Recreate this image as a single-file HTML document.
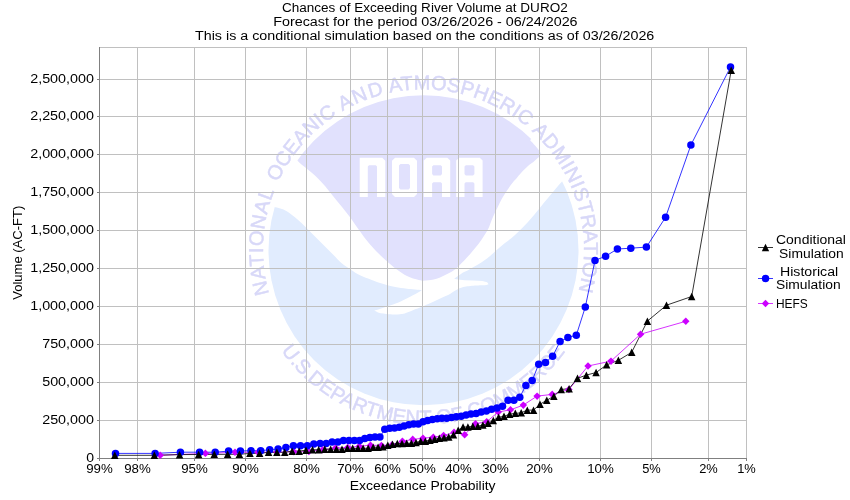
<!DOCTYPE html>
<html><head><meta charset="utf-8"><title>Chances of Exceeding River Volume</title>
<style>
html,body{margin:0;padding:0;background:#fff;overflow:hidden;}
svg{display:block;}
text{font-family:"Liberation Sans",sans-serif;fill:#000;}
svg{will-change:transform;}
</style></head><body>
<svg width="850" height="500" viewBox="0 0 850 500">
<rect width="850" height="500" fill="#fff"/>

<text x="282" y="11.9" font-size="12.5" textLength="285.7" lengthAdjust="spacingAndGlyphs">Chances of Exceeding River Volume at DURO2</text>
<text x="273.2" y="26" font-size="12.5" textLength="304.4" lengthAdjust="spacingAndGlyphs">Forecast for the period 03/26/2026 - 06/24/2026</text>
<text x="195" y="40" font-size="12.5" textLength="459.3" lengthAdjust="spacingAndGlyphs">This is a conditional simulation based on the conditions as of 03/26/2026</text>
<defs><clipPath id="disk"><circle cx="423.5" cy="250.3" r="155.0"/></clipPath>
<path id="topArc" d="M 269.1 293.7 A 160.5 160.5 0 1 1 577.9 293.7" fill="none"/>
<path id="botArc" d="M 281.1 350.8 A 174.5 174.5 0 0 0 565.9 350.8" fill="none"/>
</defs>
<circle cx="423.5" cy="250.3" r="155.0" fill="#e1ecfe"/>
<path fill="#fff" d="M 262 205 C 263.3 205.2 267.8 205.6 270 206 C 272.2 206.4 273.4 206.8 275.4 207.3 C 277.4 207.8 279.9 208.2 282 209 C 284.1 209.8 285.5 210.3 288 212 C 290.5 213.7 294 216.4 297 219 C 300 221.6 303 224.5 306 227.4 C 309 230.3 312 233.5 315 236.5 C 318 239.5 321 242.4 324 245.4 C 327 248.4 330 251.5 333 254.5 C 336 257.5 339 260.9 342 263.4 C 345 265.9 348 267.7 351 269.7 C 354 271.7 356.5 273.6 360 275.3 C 363.5 277 367.9 278.5 371.8 280 C 375.7 281.5 379.6 282.9 383.5 284.1 C 387.4 285.3 391.4 286.3 395.3 287.1 C 399.2 287.9 402.6 288.3 407 288.8 C 411.4 289.3 419.3 290 421.8 290.2 C 420.3 291.1 416.3 293.5 412.9 295.3 C 409.5 297.1 404.9 299.5 401.2 301.2 C 397.5 302.9 393.8 304.1 390.6 305.3 C 387.4 306.5 384.8 307.3 382 308.2 C 379.2 309.1 375.4 310.2 374.1 310.6 C 374.8 310.9 376.4 311.9 378 312.4 C 379.6 312.9 381.7 313.3 383.5 313.6 C 385.3 313.9 387 314.2 389 314.3 C 391 314.4 393.5 314.5 395.3 314.5 C 397.1 314.5 398.4 314.4 400 314.2 C 401.6 314 402.6 314.1 404.7 313.5 C 406.8 312.9 409.9 311.5 412.9 310.3 C 415.8 309.1 419.4 307.7 422.4 306.5 C 425.3 305.3 427.3 304.5 430.6 303 C 433.9 301.5 439.2 299.1 442.4 297.6 C 445.6 296.1 447.3 295.5 450 294 C 452.7 292.5 456.4 289.8 458.8 288.6 C 461.2 287.4 462.7 287.1 464.7 286.7 C 466.7 286.2 467.7 286.1 470.6 285.9 C 473.6 285.7 479.8 285.4 482.4 285.3 C 485 285.2 485.8 285.1 486.5 285 L 488.6 284.2 L 487.2 282.2 L 482.4 281 L 473 280.5 L 464.7 280.2 L 458 279.5 L 454.1 278.8 C 454.9 278.3 457.3 276.6 458.8 275.6 C 460.3 274.6 461.5 273.5 463 272.6 C 464.5 271.7 465.8 271.4 468 270.2 C 470.2 269 473.1 267.4 476.3 265.5 C 479.5 263.6 483.9 260.8 487 258.5 C 490.1 256.2 492.5 253.7 495 251.5 C 497.5 249.3 498.7 248.2 502 245.4 C 505.3 242.7 510.7 238.9 515 235 C 519.3 231.1 523.7 226.8 528 222 C 532.3 217.2 536.7 211.6 541 206.4 C 545.3 201.2 550.5 194.9 554 190.8 C 557.5 186.7 559.1 184.5 561.8 181.7 C 564.5 178.9 568.6 175.3 570 174 L 600 170 L 600 80 L 250 80 L 250 205 Z"/>
<path fill="#e1e1fd" clip-path="url(#disk)" d="M 290 150 C 291.3 151.8 295.1 158 297.8 161 C 300.5 164 303 165.4 306 168 C 309 170.6 312.8 173.4 316 176.4 C 319.2 179.4 322.2 182.7 325 186 C 327.8 189.3 330.2 192.5 333 196 C 335.8 199.5 339 203.3 342 207 C 345 210.7 348.2 214.6 351 218.4 C 353.8 222.2 356.4 226.4 359 230 C 361.6 233.6 363.6 236.5 366.4 240 C 369.2 243.5 372.7 247.6 376 251 C 379.3 254.4 382.4 257.2 386 260.4 C 389.6 263.6 394.1 267.4 397.6 270 C 401.1 272.6 403.5 274.2 407 275.9 C 410.5 277.6 415.7 279.2 418.8 280 C 421.9 280.8 422.9 280.8 425.9 280.6 C 428.8 280.4 432.8 280 436.5 278.8 C 440.2 277.6 445.3 275 448.2 273.5 C 451.1 272 452.3 271.3 454.1 270 C 455.9 268.7 457 267.6 458.8 265.9 C 460.6 264.2 462.7 262.1 464.7 260 C 466.7 257.9 468.9 255.4 470.8 253.2 C 472.7 251 474.3 249.2 476 247 C 477.7 244.8 479.6 242.4 481.2 240.2 C 482.8 237.9 484.2 235.7 485.5 233.5 C 486.8 231.3 488 229.4 489 227.2 C 490 225 490.6 222.7 491.5 220.5 C 492.4 218.3 493.1 216.5 494.2 214.2 C 495.3 211.9 496.7 209.1 498 206.5 C 499.3 203.9 500.5 201.3 502 198.6 C 503.5 195.9 505.3 193.1 507 190.5 C 508.7 187.9 510.8 185.1 512.4 183 C 514 180.9 515.4 179.7 516.8 178 C 518.2 176.3 519.1 175 521 173 C 522.9 171 525.7 168.1 528 166 C 530.3 163.9 532.9 162.3 535 160.4 C 537.1 158.5 540.1 156.7 540.6 154.8 C 541.1 152.9 539.8 151.5 538 149 C 536.2 146.5 531.3 141.5 530 140 L 560 120 L 560 80 L 280 80 Z"/>
<g fill="#fff">
<path d="M 359.7 157.7 L 382.3 157.7 L 385.3 160.7 L 385.3 197 L 377 197 L 377 166.5 L 375.8 165.2 L 369 165.2 L 367.8 166.5 L 367.8 197 L 359.7 197 Z"/>
<path fill-rule="evenodd" d="M 392 160.7 L 395 157.7 L 414 157.7 L 417 160.7 L 417 194 L 414 197 L 395 197 L 392 194 Z M 399 165.5 L 400.5 164 L 408.5 164 L 410 165.5 L 410 188 L 408.5 189.5 L 400.5 189.5 L 399 188 Z"/>
<path fill-rule="evenodd" d="M 423.8 160.5 L 426.6 157.7 L 447.4 157.7 L 450.2 160.5 L 450.2 197 L 442 197 L 442 183.6 L 440.8 182.3 L 433.3 182.3 L 432.1 183.6 L 432.1 197 L 423.8 197 Z M 432.1 166.6 L 433.4 165.2 L 440.7 165.2 L 442 166.6 L 442 174 L 440.7 175.4 L 433.4 175.4 L 432.1 174 Z"/>
<path fill-rule="evenodd" d="M 456.2 160.5 L 459 157.7 L 479.8 157.7 L 482.6 160.5 L 482.6 197 L 474.4 197 L 474.4 183.6 L 473.2 182.3 L 465.7 182.3 L 464.5 183.6 L 464.5 197 L 456.2 197 Z M 464.5 166.6 L 465.8 165.2 L 473.1 165.2 L 474.4 166.6 L 474.4 174 L 473.1 175.4 L 465.8 175.4 L 464.5 174 Z"/>
</g>
<g font-family="Liberation Sans" font-size="20" fill="#d8d8f8" stroke="#d8d8f8" stroke-width="0.5">
<text style="fill:#d8d8f8"><textPath href="#topArc" startOffset="0" textLength="105" lengthAdjust="spacing">NATIONAL</textPath></text>
<text style="fill:#d8d8f8"><textPath href="#topArc" startOffset="114" textLength="91" lengthAdjust="spacing">OCEANIC</textPath></text>
<text style="fill:#d8d8f8"><textPath href="#topArc" startOffset="211.2" textLength="45.2" lengthAdjust="spacing">AND</textPath></text>
<text style="fill:#d8d8f8"><textPath href="#topArc" startOffset="262.4" textLength="146.1" lengthAdjust="spacing">ATMOSPHERIC</textPath></text>
<text style="fill:#d8d8f8"><textPath href="#topArc" startOffset="414.5" textLength="175.5" lengthAdjust="spacing">ADMINISTRATION</textPath></text>
<text style="fill:#d8d8f8"><textPath href="#botArc" startOffset="0" textLength="332" lengthAdjust="spacing">U.S.DEPARTMENT OF COMMERCE</textPath></text>
</g>
<g stroke="#c0c0c0" stroke-width="1" shape-rendering="crispEdges">
<line x1="137.5" y1="47" x2="137.5" y2="458"/>
<line x1="194.5" y1="47" x2="194.5" y2="458"/>
<line x1="245.5" y1="47" x2="245.5" y2="458"/>
<line x1="306.5" y1="47" x2="306.5" y2="458"/>
<line x1="350.5" y1="47" x2="350.5" y2="458"/>
<line x1="387.5" y1="47" x2="387.5" y2="458"/>
<line x1="422.5" y1="47" x2="422.5" y2="458"/>
<line x1="458.5" y1="47" x2="458.5" y2="458"/>
<line x1="495.5" y1="47" x2="495.5" y2="458"/>
<line x1="539.5" y1="47" x2="539.5" y2="458"/>
<line x1="600.5" y1="47" x2="600.5" y2="458"/>
<line x1="651.5" y1="47" x2="651.5" y2="458"/>
<line x1="708.5" y1="47" x2="708.5" y2="458"/>
<line x1="746.5" y1="47" x2="746.5" y2="458"/>
<line x1="99" y1="79.5" x2="747" y2="79.5"/>
<line x1="99" y1="116.5" x2="747" y2="116.5"/>
<line x1="99" y1="154.5" x2="747" y2="154.5"/>
<line x1="99" y1="192.5" x2="747" y2="192.5"/>
<line x1="99" y1="230.5" x2="747" y2="230.5"/>
<line x1="99" y1="268.5" x2="747" y2="268.5"/>
<line x1="99" y1="306.5" x2="747" y2="306.5"/>
<line x1="99" y1="344.5" x2="747" y2="344.5"/>
<line x1="99" y1="382.5" x2="747" y2="382.5"/>
<line x1="99" y1="420.5" x2="747" y2="420.5"/>
<line x1="99" y1="47.5" x2="747" y2="47.5"/>
</g>
<g stroke="#808080" stroke-width="1" shape-rendering="crispEdges">
<line x1="99.5" y1="47" x2="99.5" y2="461"/>
<line x1="97" y1="458.5" x2="747" y2="458.5"/>
<line x1="97" y1="79.5" x2="99" y2="79.5"/>
<line x1="97" y1="116.5" x2="99" y2="116.5"/>
<line x1="97" y1="154.5" x2="99" y2="154.5"/>
<line x1="97" y1="192.5" x2="99" y2="192.5"/>
<line x1="97" y1="230.5" x2="99" y2="230.5"/>
<line x1="97" y1="268.5" x2="99" y2="268.5"/>
<line x1="97" y1="306.5" x2="99" y2="306.5"/>
<line x1="97" y1="344.5" x2="99" y2="344.5"/>
<line x1="97" y1="382.5" x2="99" y2="382.5"/>
<line x1="97" y1="420.5" x2="99" y2="420.5"/>
<line x1="97" y1="458.5" x2="99" y2="458.5"/>
<line x1="99.5" y1="459" x2="99.5" y2="461"/>
<line x1="137.5" y1="459" x2="137.5" y2="461"/>
<line x1="194.5" y1="459" x2="194.5" y2="461"/>
<line x1="245.5" y1="459" x2="245.5" y2="461"/>
<line x1="306.5" y1="459" x2="306.5" y2="461"/>
<line x1="350.5" y1="459" x2="350.5" y2="461"/>
<line x1="387.5" y1="459" x2="387.5" y2="461"/>
<line x1="422.5" y1="459" x2="422.5" y2="461"/>
<line x1="458.5" y1="459" x2="458.5" y2="461"/>
<line x1="495.5" y1="459" x2="495.5" y2="461"/>
<line x1="539.5" y1="459" x2="539.5" y2="461"/>
<line x1="600.5" y1="459" x2="600.5" y2="461"/>
<line x1="651.5" y1="459" x2="651.5" y2="461"/>
<line x1="708.5" y1="459" x2="708.5" y2="461"/>
<line x1="746.5" y1="459" x2="746.5" y2="461"/>
</g>
<text x="30.2" y="82.8" font-size="12.5" textLength="63.8" lengthAdjust="spacingAndGlyphs">2,500,000</text>
<text x="30.2" y="119.8" font-size="12.5" textLength="63.8" lengthAdjust="spacingAndGlyphs">2,250,000</text>
<text x="30.2" y="157.8" font-size="12.5" textLength="63.8" lengthAdjust="spacingAndGlyphs">2,000,000</text>
<text x="30.2" y="195.8" font-size="12.5" textLength="63.8" lengthAdjust="spacingAndGlyphs">1,750,000</text>
<text x="30.2" y="233.8" font-size="12.5" textLength="63.8" lengthAdjust="spacingAndGlyphs">1,500,000</text>
<text x="30.2" y="271.8" font-size="12.5" textLength="63.8" lengthAdjust="spacingAndGlyphs">1,250,000</text>
<text x="30.2" y="309.8" font-size="12.5" textLength="63.8" lengthAdjust="spacingAndGlyphs">1,000,000</text>
<text x="42.2" y="347.8" font-size="12.5" textLength="51.8" lengthAdjust="spacingAndGlyphs">750,000</text>
<text x="42.2" y="385.8" font-size="12.5" textLength="51.8" lengthAdjust="spacingAndGlyphs">500,000</text>
<text x="42.2" y="423.8" font-size="12.5" textLength="51.8" lengthAdjust="spacingAndGlyphs">250,000</text>
<text x="86.2" y="461.8" font-size="12.5" textLength="7.8" lengthAdjust="spacingAndGlyphs">0</text>
<text x="86.2" y="472.8" font-size="12.5" textLength="26.6" lengthAdjust="spacingAndGlyphs">99%</text>
<text x="124.2" y="472.8" font-size="12.5" textLength="26.6" lengthAdjust="spacingAndGlyphs">98%</text>
<text x="181.2" y="472.8" font-size="12.5" textLength="26.6" lengthAdjust="spacingAndGlyphs">95%</text>
<text x="232.2" y="472.8" font-size="12.5" textLength="26.6" lengthAdjust="spacingAndGlyphs">90%</text>
<text x="293.2" y="472.8" font-size="12.5" textLength="26.6" lengthAdjust="spacingAndGlyphs">80%</text>
<text x="337.2" y="472.8" font-size="12.5" textLength="26.6" lengthAdjust="spacingAndGlyphs">70%</text>
<text x="374.2" y="472.8" font-size="12.5" textLength="26.6" lengthAdjust="spacingAndGlyphs">60%</text>
<text x="409.2" y="472.8" font-size="12.5" textLength="26.6" lengthAdjust="spacingAndGlyphs">50%</text>
<text x="445.2" y="472.8" font-size="12.5" textLength="26.6" lengthAdjust="spacingAndGlyphs">40%</text>
<text x="482.2" y="472.8" font-size="12.5" textLength="26.6" lengthAdjust="spacingAndGlyphs">30%</text>
<text x="526.2" y="472.8" font-size="12.5" textLength="26.6" lengthAdjust="spacingAndGlyphs">20%</text>
<text x="587.2" y="472.8" font-size="12.5" textLength="26.6" lengthAdjust="spacingAndGlyphs">10%</text>
<text x="642.2" y="472.8" font-size="12.5" textLength="18.6" lengthAdjust="spacingAndGlyphs">5%</text>
<text x="699.2" y="472.8" font-size="12.5" textLength="18.6" lengthAdjust="spacingAndGlyphs">2%</text>
<text x="737.2" y="472.8" font-size="12.5" textLength="18.6" lengthAdjust="spacingAndGlyphs">1%</text>
<text x="349.8" y="490" font-size="12.5" textLength="145.8" lengthAdjust="spacingAndGlyphs">Exceedance Probability</text>
<text transform="translate(22.3,299.2) rotate(-90)" font-size="12.5" textLength="94.1" lengthAdjust="spacingAndGlyphs" x="-0.6">Volume (AC-FT)</text>
<polyline fill="none" stroke="#cc00ff" stroke-width="0.8" points="160.2,455.3 205.4,453.4 235,452.3 258,452.3 277.1,452 293.8,451.8 308.9,451.5 322.7,449.7 335.5,448 347.7,447.5 359.3,446.3 370.5,445.2 381.4,445.5 392,444.9 402.4,441.3 412.7,439.4 423,438.2 433.3,437.2 443.6,435.5 454,432.4 464.6,434.7 475.5,423.7 486.7,421.7 498.3,412 510.5,409.8 523.3,405.1 537.1,396.1 552.2,394.4 568.9,389.5 588,366 611,361.1 640.6,334.2 685.8,321.3"/>
<polyline fill="none" stroke="#0000ff" stroke-width="0.8" points="115.5,453.4 155.1,453.4 180.4,452.2 199.6,452.2 215.2,452.2 228.6,451.1 240.4,451 251,450.7 260.7,450.7 269.7,449.7 278.1,449.1 285.9,447.5 293.4,445.7 300.5,445.7 307.3,445.7 313.8,443.9 320.1,443.4 326.2,443.4 332.1,442.1 337.9,441.9 343.5,440.6 349,440.4 354.4,440.4 359.6,440.4 364.8,438.4 369.9,437.4 375,437 379.9,436.9 384.8,429.3 389.7,428.3 394.5,428.1 399.3,427.3 404.1,425.9 408.8,424.7 413.6,424.1 418.3,424 423,421.8 427.7,420.6 432.4,419.6 437.2,418.8 441.9,418.3 446.7,418.2 451.5,417.4 456.3,416.8 461.2,416.2 466.1,415 471,414 476.1,413.5 481.2,412 486.4,411 491.6,409.2 497,408 502.5,406.2 508.1,400.3 513.9,400.3 519.8,397.2 525.9,385.4 532.2,380.5 538.7,364.2 545.5,362.4 552.6,356.3 560.1,341.5 567.9,337.5 576.3,335.2 585.3,307.1 595,260.4 605.6,256.2 617.4,249 630.8,248.2 646.4,247.1 665.6,217.2 690.9,145 730.5,67"/>
<polyline fill="none" stroke="#000" stroke-width="0.8" points="114.8,455.3 154.3,455.3 179.5,454.6 198.6,454.5 214.3,454.4 227.6,454.3 239.4,454.3 249.9,453.4 259.6,453.4 268.5,452.3 276.9,452.3 284.7,452.3 292.1,451.1 299.2,451.1 306,450.2 312.5,449.9 318.7,449.6 324.8,449.2 330.7,449.2 336.4,449.2 342,449.2 347.4,448.4 352.7,448.4 358,448.4 363.1,448.4 368.2,448.2 373.2,447.3 378.1,447.2 382.9,446.9 387.8,445.2 392.5,444.2 397.3,443.5 402,443.5 406.7,443.3 411.4,443.3 416,442.5 420.7,441.2 425.3,441.2 430,440.1 434.6,439.1 439.3,438.3 444,437.9 448.7,437 453.5,434.8 458.2,430.1 463.1,427 467.9,427 472.8,426.3 477.8,426.3 482.9,425 488,423.3 493.3,420.5 498.6,417.2 504,416.4 509.6,414.1 515.3,413.4 521.2,412.8 527.3,410.1 533.5,410.1 540,404.2 546.8,400.3 553.9,396.1 561.3,389.5 569.1,388.6 577.5,378.3 586.4,375.1 596.1,372.5 606.6,364.9 618.4,360.3 631.7,352.3 647.4,321.1 666.5,305.2 691.7,296.5 731.2,70.3"/>
<path d="M160.2 451.6L164 455.3L160.2 459.1L156.5 455.3Z" fill="#cc00ff"/><path d="M205.4 449.6L209.2 453.4L205.4 457.1L201.7 453.4Z" fill="#cc00ff"/><path d="M235 448.6L238.8 452.3L235 456.1L231.3 452.3Z" fill="#cc00ff"/><path d="M258 448.6L261.7 452.3L258 456.1L254.2 452.3Z" fill="#cc00ff"/><path d="M277.1 448.2L280.9 452L277.1 455.8L273.4 452Z" fill="#cc00ff"/><path d="M293.8 448.1L297.6 451.8L293.8 455.6L290.1 451.8Z" fill="#cc00ff"/><path d="M308.9 447.8L312.6 451.5L308.9 455.2L305.1 451.5Z" fill="#cc00ff"/><path d="M322.7 445.9L326.4 449.7L322.7 453.4L318.9 449.7Z" fill="#cc00ff"/><path d="M335.5 444.2L339.3 448L335.5 451.8L331.8 448Z" fill="#cc00ff"/><path d="M347.7 443.8L351.5 447.5L347.7 451.2L344 447.5Z" fill="#cc00ff"/><path d="M359.3 442.6L363.1 446.3L359.3 450.1L355.6 446.3Z" fill="#cc00ff"/><path d="M370.5 441.4L374.3 445.2L370.5 448.9L366.8 445.2Z" fill="#cc00ff"/><path d="M381.4 441.8L385.1 445.5L381.4 449.2L377.6 445.5Z" fill="#cc00ff"/><path d="M392 441.1L395.7 444.9L392 448.6L388.2 444.9Z" fill="#cc00ff"/><path d="M402.4 437.6L406.2 441.3L402.4 445.1L398.7 441.3Z" fill="#cc00ff"/><path d="M412.7 435.6L416.5 439.4L412.7 443.1L409 439.4Z" fill="#cc00ff"/><path d="M423 434.4L426.8 438.2L423 441.9L419.2 438.2Z" fill="#cc00ff"/><path d="M433.3 433.4L437 437.2L433.3 440.9L429.5 437.2Z" fill="#cc00ff"/><path d="M443.6 431.8L447.3 435.5L443.6 439.2L439.8 435.5Z" fill="#cc00ff"/><path d="M454 428.6L457.8 432.4L454 436.1L450.3 432.4Z" fill="#cc00ff"/><path d="M464.6 430.9L468.4 434.7L464.6 438.4L460.9 434.7Z" fill="#cc00ff"/><path d="M475.5 419.9L479.2 423.7L475.5 427.4L471.7 423.7Z" fill="#cc00ff"/><path d="M486.7 417.9L490.4 421.7L486.7 425.4L482.9 421.7Z" fill="#cc00ff"/><path d="M498.3 408.2L502 412L498.3 415.8L494.5 412Z" fill="#cc00ff"/><path d="M510.5 406.1L514.2 409.8L510.5 413.6L506.7 409.8Z" fill="#cc00ff"/><path d="M523.3 401.4L527.1 405.1L523.3 408.9L519.6 405.1Z" fill="#cc00ff"/><path d="M537.1 392.4L540.9 396.1L537.1 399.9L533.4 396.1Z" fill="#cc00ff"/><path d="M552.2 390.6L555.9 394.4L552.2 398.1L548.4 394.4Z" fill="#cc00ff"/><path d="M568.9 385.8L572.6 389.5L568.9 393.2L565.1 389.5Z" fill="#cc00ff"/><path d="M588 362.2L591.8 366L588 369.8L584.3 366Z" fill="#cc00ff"/><path d="M611 357.4L614.7 361.1L611 364.9L607.2 361.1Z" fill="#cc00ff"/><path d="M640.6 330.4L644.3 334.2L640.6 337.9L636.8 334.2Z" fill="#cc00ff"/><path d="M685.8 317.6L689.5 321.3L685.8 325.1L682 321.3Z" fill="#cc00ff"/>
<circle cx="115.5" cy="453.4" r="3.75" fill="#0000ff"/><circle cx="155.1" cy="453.4" r="3.75" fill="#0000ff"/><circle cx="180.4" cy="452.2" r="3.75" fill="#0000ff"/><circle cx="199.6" cy="452.2" r="3.75" fill="#0000ff"/><circle cx="215.2" cy="452.2" r="3.75" fill="#0000ff"/><circle cx="228.6" cy="451.1" r="3.75" fill="#0000ff"/><circle cx="240.4" cy="451" r="3.75" fill="#0000ff"/><circle cx="251" cy="450.7" r="3.75" fill="#0000ff"/><circle cx="260.7" cy="450.7" r="3.75" fill="#0000ff"/><circle cx="269.7" cy="449.7" r="3.75" fill="#0000ff"/><circle cx="278.1" cy="449.1" r="3.75" fill="#0000ff"/><circle cx="285.9" cy="447.5" r="3.75" fill="#0000ff"/><circle cx="293.4" cy="445.7" r="3.75" fill="#0000ff"/><circle cx="300.5" cy="445.7" r="3.75" fill="#0000ff"/><circle cx="307.3" cy="445.7" r="3.75" fill="#0000ff"/><circle cx="313.8" cy="443.9" r="3.75" fill="#0000ff"/><circle cx="320.1" cy="443.4" r="3.75" fill="#0000ff"/><circle cx="326.2" cy="443.4" r="3.75" fill="#0000ff"/><circle cx="332.1" cy="442.1" r="3.75" fill="#0000ff"/><circle cx="337.9" cy="441.9" r="3.75" fill="#0000ff"/><circle cx="343.5" cy="440.6" r="3.75" fill="#0000ff"/><circle cx="349" cy="440.4" r="3.75" fill="#0000ff"/><circle cx="354.4" cy="440.4" r="3.75" fill="#0000ff"/><circle cx="359.6" cy="440.4" r="3.75" fill="#0000ff"/><circle cx="364.8" cy="438.4" r="3.75" fill="#0000ff"/><circle cx="369.9" cy="437.4" r="3.75" fill="#0000ff"/><circle cx="375" cy="437" r="3.75" fill="#0000ff"/><circle cx="379.9" cy="436.9" r="3.75" fill="#0000ff"/><circle cx="384.8" cy="429.3" r="3.75" fill="#0000ff"/><circle cx="389.7" cy="428.3" r="3.75" fill="#0000ff"/><circle cx="394.5" cy="428.1" r="3.75" fill="#0000ff"/><circle cx="399.3" cy="427.3" r="3.75" fill="#0000ff"/><circle cx="404.1" cy="425.9" r="3.75" fill="#0000ff"/><circle cx="408.8" cy="424.7" r="3.75" fill="#0000ff"/><circle cx="413.6" cy="424.1" r="3.75" fill="#0000ff"/><circle cx="418.3" cy="424" r="3.75" fill="#0000ff"/><circle cx="423" cy="421.8" r="3.75" fill="#0000ff"/><circle cx="427.7" cy="420.6" r="3.75" fill="#0000ff"/><circle cx="432.4" cy="419.6" r="3.75" fill="#0000ff"/><circle cx="437.2" cy="418.8" r="3.75" fill="#0000ff"/><circle cx="441.9" cy="418.3" r="3.75" fill="#0000ff"/><circle cx="446.7" cy="418.2" r="3.75" fill="#0000ff"/><circle cx="451.5" cy="417.4" r="3.75" fill="#0000ff"/><circle cx="456.3" cy="416.8" r="3.75" fill="#0000ff"/><circle cx="461.2" cy="416.2" r="3.75" fill="#0000ff"/><circle cx="466.1" cy="415" r="3.75" fill="#0000ff"/><circle cx="471" cy="414" r="3.75" fill="#0000ff"/><circle cx="476.1" cy="413.5" r="3.75" fill="#0000ff"/><circle cx="481.2" cy="412" r="3.75" fill="#0000ff"/><circle cx="486.4" cy="411" r="3.75" fill="#0000ff"/><circle cx="491.6" cy="409.2" r="3.75" fill="#0000ff"/><circle cx="497" cy="408" r="3.75" fill="#0000ff"/><circle cx="502.5" cy="406.2" r="3.75" fill="#0000ff"/><circle cx="508.1" cy="400.3" r="3.75" fill="#0000ff"/><circle cx="513.9" cy="400.3" r="3.75" fill="#0000ff"/><circle cx="519.8" cy="397.2" r="3.75" fill="#0000ff"/><circle cx="525.9" cy="385.4" r="3.75" fill="#0000ff"/><circle cx="532.2" cy="380.5" r="3.75" fill="#0000ff"/><circle cx="538.7" cy="364.2" r="3.75" fill="#0000ff"/><circle cx="545.5" cy="362.4" r="3.75" fill="#0000ff"/><circle cx="552.6" cy="356.3" r="3.75" fill="#0000ff"/><circle cx="560.1" cy="341.5" r="3.75" fill="#0000ff"/><circle cx="567.9" cy="337.5" r="3.75" fill="#0000ff"/><circle cx="576.3" cy="335.2" r="3.75" fill="#0000ff"/><circle cx="585.3" cy="307.1" r="3.75" fill="#0000ff"/><circle cx="595" cy="260.4" r="3.75" fill="#0000ff"/><circle cx="605.6" cy="256.2" r="3.75" fill="#0000ff"/><circle cx="617.4" cy="249" r="3.75" fill="#0000ff"/><circle cx="630.8" cy="248.2" r="3.75" fill="#0000ff"/><circle cx="646.4" cy="247.1" r="3.75" fill="#0000ff"/><circle cx="665.6" cy="217.2" r="3.75" fill="#0000ff"/><circle cx="690.9" cy="145" r="3.75" fill="#0000ff"/><circle cx="730.5" cy="67" r="3.75" fill="#0000ff"/>
<path d="M114.8 451.6L118.5 459.1L111 459.1Z" fill="#000"/><path d="M154.3 451.6L158.1 459.1L150.6 459.1Z" fill="#000"/><path d="M179.5 450.9L183.3 458.4L175.8 458.4Z" fill="#000"/><path d="M198.6 450.8L202.4 458.2L194.9 458.2Z" fill="#000"/><path d="M214.3 450.6L218 458.1L210.5 458.1Z" fill="#000"/><path d="M227.6 450.6L231.4 458.1L223.9 458.1Z" fill="#000"/><path d="M239.4 450.6L243.1 458.1L235.6 458.1Z" fill="#000"/><path d="M249.9 449.6L253.7 457.1L246.2 457.1Z" fill="#000"/><path d="M259.6 449.6L263.4 457.1L255.9 457.1Z" fill="#000"/><path d="M268.5 448.6L272.3 456.1L264.8 456.1Z" fill="#000"/><path d="M276.9 448.6L280.6 456.1L273.1 456.1Z" fill="#000"/><path d="M284.7 448.6L288.5 456.1L281 456.1Z" fill="#000"/><path d="M292.1 447.4L295.9 454.9L288.4 454.9Z" fill="#000"/><path d="M299.2 447.4L303 454.9L295.5 454.9Z" fill="#000"/><path d="M306 446.4L309.7 453.9L302.2 453.9Z" fill="#000"/><path d="M312.5 446.1L316.2 453.6L308.7 453.6Z" fill="#000"/><path d="M318.7 445.9L322.5 453.4L315 453.4Z" fill="#000"/><path d="M324.8 445.4L328.5 452.9L321 452.9Z" fill="#000"/><path d="M330.7 445.4L334.4 452.9L326.9 452.9Z" fill="#000"/><path d="M336.4 445.4L340.1 452.9L332.6 452.9Z" fill="#000"/><path d="M342 445.4L345.7 452.9L338.2 452.9Z" fill="#000"/><path d="M347.4 444.6L351.1 452.1L343.6 452.1Z" fill="#000"/><path d="M352.7 444.6L356.5 452.1L349 452.1Z" fill="#000"/><path d="M358 444.6L361.7 452.1L354.2 452.1Z" fill="#000"/><path d="M363.1 444.6L366.9 452.1L359.4 452.1Z" fill="#000"/><path d="M368.2 444.4L371.9 451.9L364.4 451.9Z" fill="#000"/><path d="M373.2 443.6L376.9 451.1L369.4 451.1Z" fill="#000"/><path d="M378.1 443.4L381.8 450.9L374.3 450.9Z" fill="#000"/><path d="M382.9 443.1L386.7 450.6L379.2 450.6Z" fill="#000"/><path d="M387.8 441.4L391.5 448.9L384 448.9Z" fill="#000"/><path d="M392.5 440.4L396.3 447.9L388.8 447.9Z" fill="#000"/><path d="M397.3 439.8L401 447.2L393.5 447.2Z" fill="#000"/><path d="M402 439.8L405.8 447.2L398.3 447.2Z" fill="#000"/><path d="M406.7 439.6L410.4 447.1L402.9 447.1Z" fill="#000"/><path d="M411.4 439.6L415.1 447.1L407.6 447.1Z" fill="#000"/><path d="M416 438.8L419.8 446.2L412.3 446.2Z" fill="#000"/><path d="M420.7 437.4L424.4 444.9L416.9 444.9Z" fill="#000"/><path d="M425.3 437.4L429.1 444.9L421.6 444.9Z" fill="#000"/><path d="M430 436.4L433.7 443.9L426.2 443.9Z" fill="#000"/><path d="M434.6 435.4L438.4 442.9L430.9 442.9Z" fill="#000"/><path d="M439.3 434.6L443.1 442.1L435.6 442.1Z" fill="#000"/><path d="M444 434.1L447.7 441.6L440.2 441.6Z" fill="#000"/><path d="M448.7 433.2L452.5 440.8L445 440.8Z" fill="#000"/><path d="M453.5 431.1L457.2 438.6L449.7 438.6Z" fill="#000"/><path d="M458.2 426.4L462 433.9L454.5 433.9Z" fill="#000"/><path d="M463.1 423.2L466.8 430.8L459.3 430.8Z" fill="#000"/><path d="M467.9 423.2L471.7 430.8L464.2 430.8Z" fill="#000"/><path d="M472.8 422.6L476.6 430.1L469.1 430.1Z" fill="#000"/><path d="M477.8 422.6L481.6 430.1L474.1 430.1Z" fill="#000"/><path d="M482.9 421.2L486.6 428.8L479.1 428.8Z" fill="#000"/><path d="M488 419.6L491.8 427.1L484.3 427.1Z" fill="#000"/><path d="M493.3 416.8L497 424.2L489.5 424.2Z" fill="#000"/><path d="M498.6 413.4L502.4 420.9L494.9 420.9Z" fill="#000"/><path d="M504 412.6L507.8 420.1L500.3 420.1Z" fill="#000"/><path d="M509.6 410.4L513.4 417.9L505.9 417.9Z" fill="#000"/><path d="M515.3 409.6L519.1 417.1L511.6 417.1Z" fill="#000"/><path d="M521.2 409.1L525 416.6L517.5 416.6Z" fill="#000"/><path d="M527.3 406.4L531 413.9L523.5 413.9Z" fill="#000"/><path d="M533.5 406.4L537.3 413.9L529.8 413.9Z" fill="#000"/><path d="M540 400.4L543.8 407.9L536.3 407.9Z" fill="#000"/><path d="M546.8 396.6L550.5 404.1L543 404.1Z" fill="#000"/><path d="M553.9 392.4L557.6 399.9L550.1 399.9Z" fill="#000"/><path d="M561.3 385.8L565 393.2L557.5 393.2Z" fill="#000"/><path d="M569.1 384.9L572.9 392.4L565.4 392.4Z" fill="#000"/><path d="M577.5 374.6L581.2 382.1L573.7 382.1Z" fill="#000"/><path d="M586.4 371.4L590.1 378.9L582.6 378.9Z" fill="#000"/><path d="M596.1 368.8L599.8 376.2L592.3 376.2Z" fill="#000"/><path d="M606.6 361.1L610.4 368.6L602.9 368.6Z" fill="#000"/><path d="M618.4 356.6L622.1 364.1L614.6 364.1Z" fill="#000"/><path d="M631.7 348.6L635.5 356.1L628 356.1Z" fill="#000"/><path d="M647.4 317.4L651.1 324.9L643.6 324.9Z" fill="#000"/><path d="M666.5 301.4L670.2 308.9L662.7 308.9Z" fill="#000"/><path d="M691.7 292.8L695.4 300.2L687.9 300.2Z" fill="#000"/><path d="M731.2 66.5L735 74L727.5 74Z" fill="#000"/>
<line x1="758" y1="247.5" x2="773" y2="247.5" stroke="#000" stroke-width="0.8"/>
<path d="M765.5 243.8L769.2 251.2L761.8 251.2Z" fill="#000"/>
<text x="776" y="243.9" font-size="12.5" textLength="69.9" lengthAdjust="spacingAndGlyphs">Conditional</text>
<text x="779.1" y="257.7" font-size="12.5" textLength="64.7" lengthAdjust="spacingAndGlyphs">Simulation</text>
<line x1="758" y1="278.5" x2="773" y2="278.5" stroke="#0000ff" stroke-width="0.8"/>
<circle cx="765.5" cy="278.5" r="3.75" fill="#0000ff"/>
<text x="780" y="275.7" font-size="12.5" textLength="58.2" lengthAdjust="spacingAndGlyphs">Historical</text>
<text x="776" y="289.4" font-size="12.5" textLength="64.6" lengthAdjust="spacingAndGlyphs">Simulation</text>
<line x1="758" y1="303.5" x2="773" y2="303.5" stroke="#cc00ff" stroke-width="0.8"/>
<path d="M765.5 299.8L769.2 303.5L765.5 307.2L761.8 303.5Z" fill="#cc00ff"/>
<text x="776" y="307.7" font-size="12.5" textLength="31.8" lengthAdjust="spacingAndGlyphs">HEFS</text>
</svg></body></html>
